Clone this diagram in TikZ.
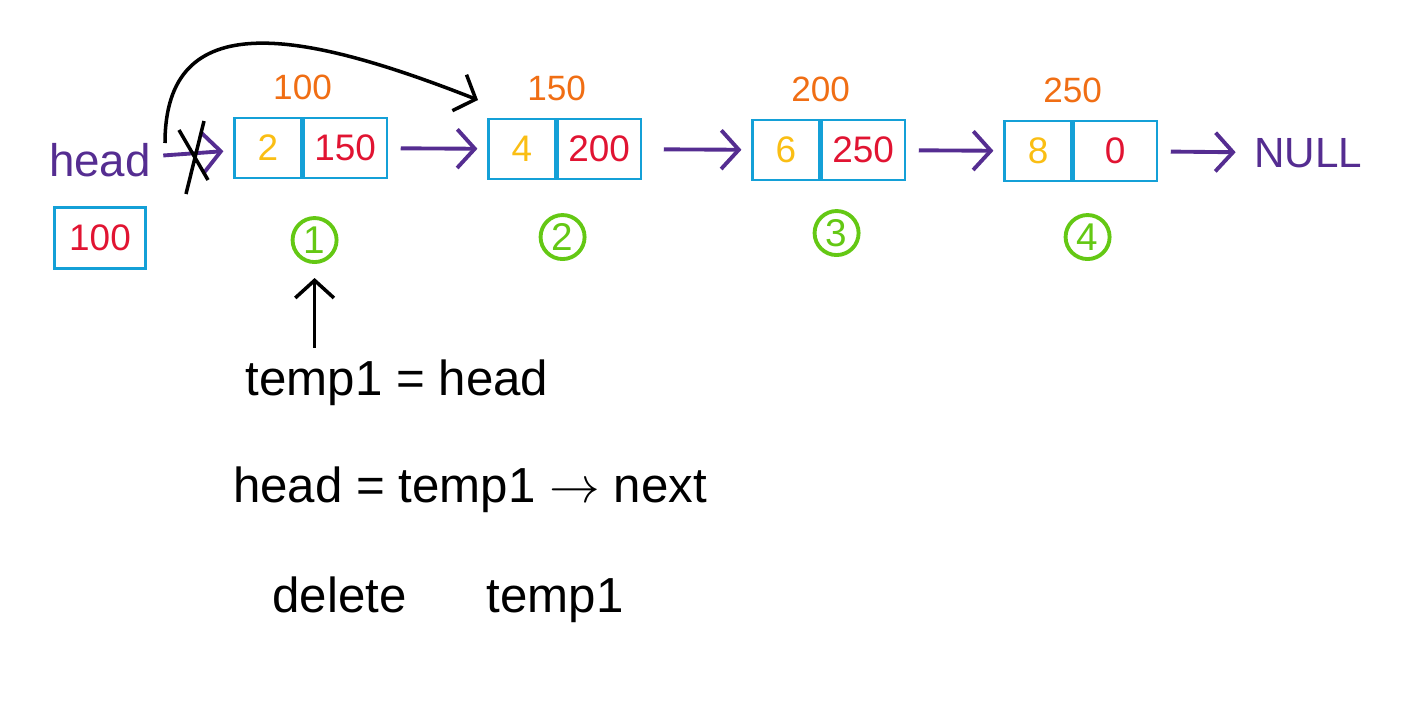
\documentclass[tikz,border=0pt]{standalone}
\usepackage{fontspec}
\setmainfont{Liberation Sans}
\usepackage{xcolor}
\usetikzlibrary{arrows.meta,positioning}

\definecolor{cellblue}{RGB}{20,160,215}
\definecolor{addrorange}{RGB}{240,110,20}
\definecolor{ptrred}{RGB}{225,20,50}
\definecolor{datayellow}{RGB}{250,190,20}
\definecolor{linkpurple}{RGB}{85,45,145}
\definecolor{markgreen}{RGB}{100,200,20}

\begin{document}
\begin{tikzpicture}[x=0.01cm, y=-0.01cm,
    datacell/.style={rectangle, draw=cellblue, line width=0.6pt,
                minimum width=0.67cm, minimum height=0.6cm, inner sep=0pt,
                text=datayellow, font=\fontsize{10.5}{12}\selectfont},
    ptrcell/.style={datacell, minimum width=0.83cm, text=ptrred},
    addr/.style={text=addrorange, font=\fontsize{10}{12}\selectfont},
    idx/.style={circle, draw=markgreen, line width=1.1pt, minimum size=0.44cm,
                inner sep=0pt, text=markgreen, font=\fontsize{11}{12}\selectfont},
    link/.style={-{Straight Barb[length=5pt,width=11pt]}, line width=1.1pt,
                 linkpurple, shorten <=0.13cm, shorten >=0.1cm},
    move/.style={-{Straight Barb[length=5pt,width=11pt]}, line width=1pt, black},
    note/.style={font=\fontsize{14}{16}\selectfont}
]
    \useasboundingbox (0,0) rectangle (1425,703);

    % head pointer
    \node[text=linkpurple, font=\fontsize{13}{15}\selectfont] (head) at (100,160) {head};
    \node[ptrcell, minimum width=0.91cm, minimum height=0.61cm] (hbox) at (100,238) {100};

    % list nodes
    \node[datacell] (d1) at (268,148) {2};
    \node[ptrcell, right=0pt of d1] (p1) {150};
    \node[datacell] (d2) at (522,149) {4};
    \node[ptrcell, right=0pt of d2] (p2) {200};
    \node[datacell] (d3) at (786,150) {6};
    \node[ptrcell, right=0pt of d3] (p3) {250};
    \node[datacell] (d4) at (1038,151) {8};
    \node[ptrcell, right=0pt of d4] (p4) {0};
    \node[text=linkpurple, font=\fontsize{12}{14}\selectfont] (null) at (1308,153) {NULL};

    % addresses
    \node[addr, above=0.05cm of d1.north east] (a1) {100};
    \node[addr, above=0.05cm of d2.north east] (a2) {150};
    \node[addr, above=0.05cm of d3.north east] (a3) {200};
    \node[addr, above=0.05cm of d4.north east] (a4) {250};

    % node numbers
    \node[idx, below=0.37cm of d1.south east, xshift=0.12cm] (c1) {1};
    \node[idx, below=0.33cm of d2.south east, xshift=0.06cm] (c2) {2};
    \node[idx, below=0.28cm of d3.south east, xshift=0.16cm] (c3) {3};
    \node[idx, below=0.31cm of d4.south east, xshift=0.15cm] (c4) {4};

    % links
    \draw[link, shorten <=0pt] (head) -- (d1);
    \draw[link] (p1) -- (d2);
    \draw[link, shorten <=0.22cm] (p2) -- (d3);
    \draw[link] (p3) -- (d4);
    \draw[link, shorten >=0.06cm] (p4) -- (null);

    % old head link crossed out
    \coordinate (xc) at (194,157);
    \draw[line width=1pt] ([shift={(-15,-27)}]xc) -- ([shift={(14,23)}]xc)
                          ([shift={(10,-36)}]xc) -- ([shift={(-8,37)}]xc);

    % head moves to second node
    \coordinate (hs) at (165,143);
    \coordinate (he) at (478,100);
    \draw[move] (hs) .. controls (165,5) and (300,30) .. (he);

    % steps
    \node[note] (t1) at (397,383) {temp1 = head};
    \node[note] (t2) at (470,490) {head = temp1 $\rightarrow$ next};
    \node[note] (t3) at (448,600) {delete\hspace{0.8cm}temp1};
    \draw[move, shorten >=0.14cm] (t1.north -| c1.south) -- (c1.south);
\end{tikzpicture}
\end{document}
